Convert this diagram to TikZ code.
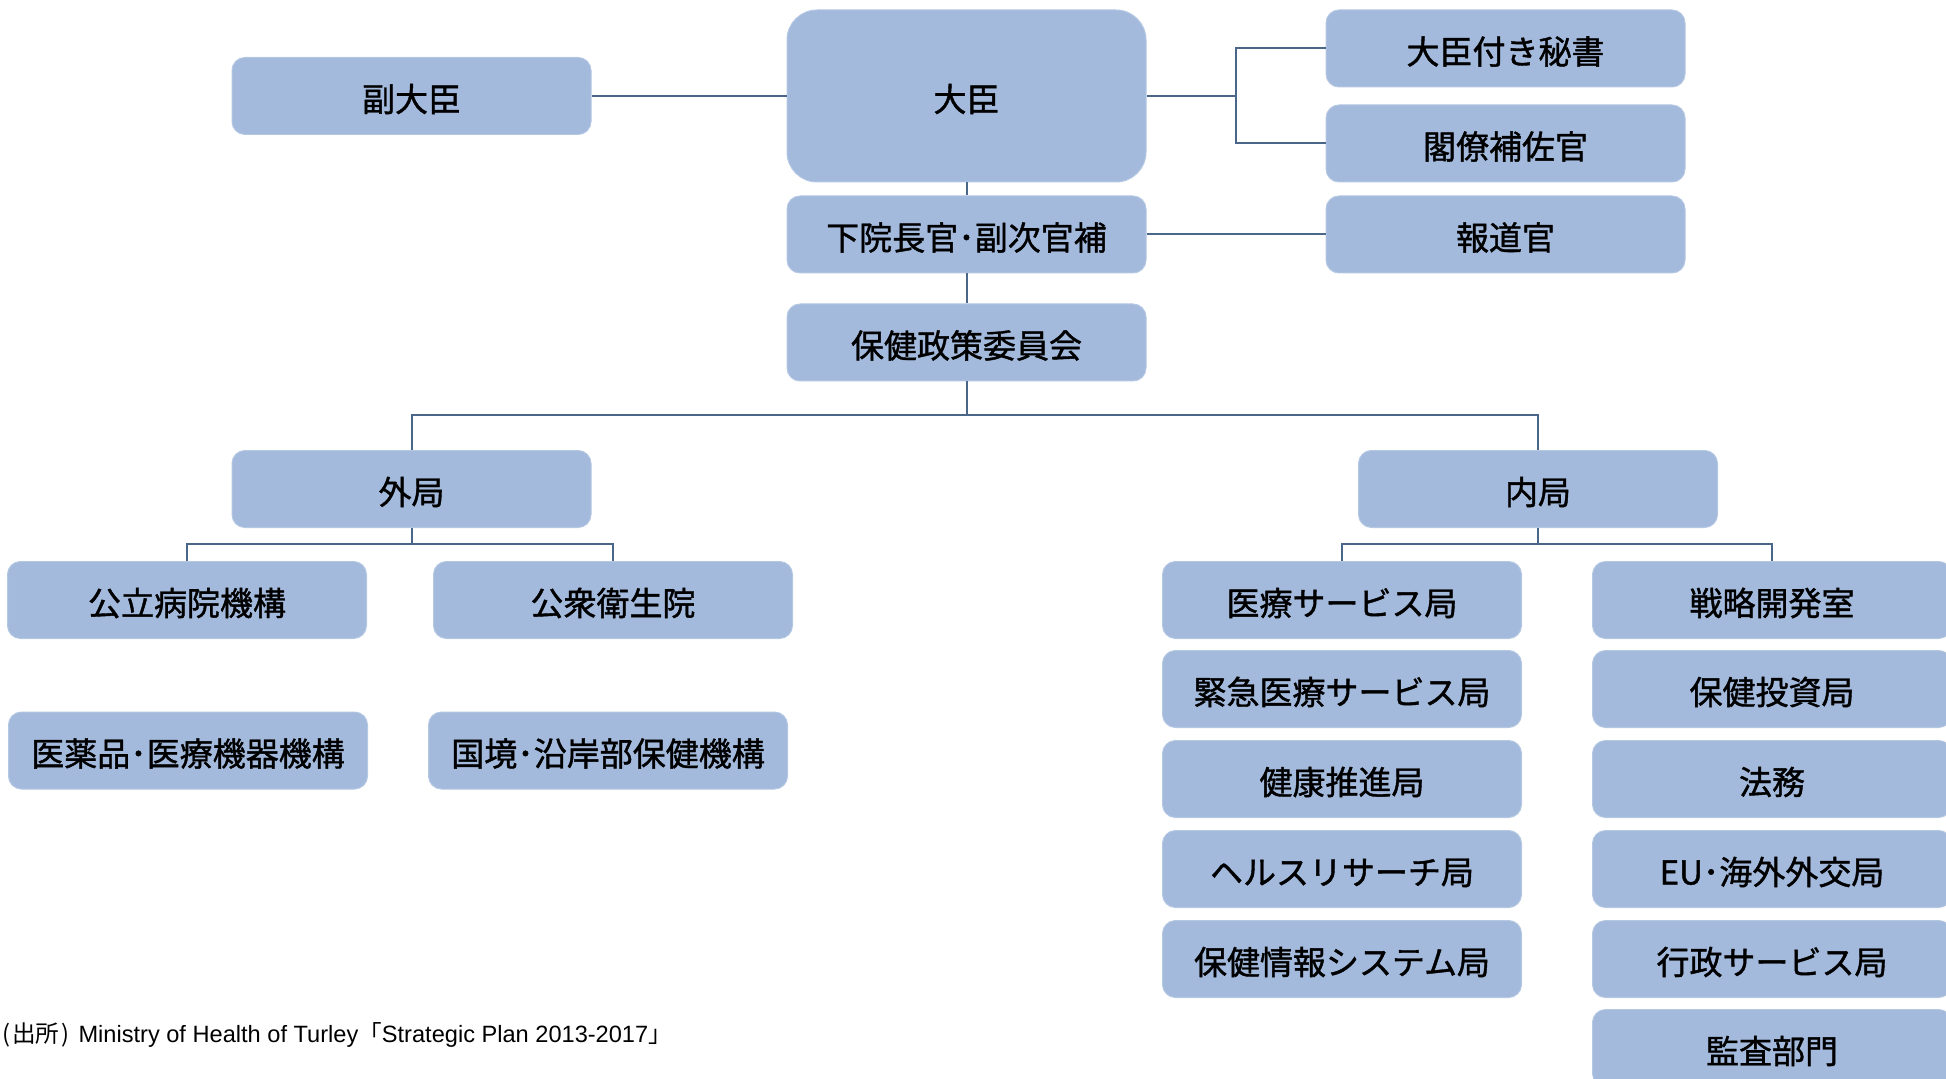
\documentclass[tikz,border=0pt]{standalone}
\usepackage{fontspec}
\newfontfamily\jp[BoldFont={Noto Sans CJK JP}, BoldFeatures={FakeBold=1.2}]{Noto Sans CJK JP}
\newfontfamily\lat{Liberation Sans}
\definecolor{boxfill}{HTML}{A3BADC}
\definecolor{boxedge}{HTML}{B4C7E3}
\definecolor{linec}{HTML}{4A6789}
\tikzset{
  orgbox/.style={rectangle, rounded corners=6.5pt, fill=boxfill, draw=boxedge, line width=0.5pt,
    minimum width=179.5pt, minimum height=38.5pt, inner sep=0pt,
    text height=17.5pt, text depth=2pt,
    font=\jp\bfseries\fontsize{16.5}{18}\selectfont, text=black},
  bigbox/.style={orgbox, rounded corners=15pt, minimum height=86pt},
  conn/.style={draw=linec, line width=1pt}
}
\begin{document}
\begin{tikzpicture}[x=0.5pt,y=-0.5pt]
\useasboundingbox (0,0) rectangle (1946,1079);
% top
\node[bigbox] (daijin) at (966.5,96) {大臣};
\node[orgbox] (fuku) at (411.5,96) {副大臣};
\node[orgbox] (hisho) at (1505.5,48.5) {大臣付き秘書};
\node[orgbox] (kakuryo) at (1505.5,143.5) {閣僚補佐官};
\node[orgbox] (hodo) at (1505.5,234.5) {報道官};
\node[orgbox] (kain) at (966.5,234.5) {下院長官･副次官補};
\node[orgbox] (hoken) at (966.5,342.5) {保健政策委員会};
\node[orgbox] (gai) at (411.5,489) {外局};
\node[orgbox] (nai) at (1538,489) {内局};
% outer bureaus
\node[orgbox] (koritsu) at (187,600) {公立病院機構};
\node[orgbox] (koshu) at (613,600) {公衆衛生院};
\node[orgbox] (iyaku) at (188,750.5) {医薬品･医療機器機構};
\node[orgbox] (kokkyo) at (608,750.5) {国境･沿岸部保健機構};
% inner bureaus left column
\node[orgbox] (l1) at (1342,600) {医療サービス局};
\node[orgbox] (l2) at (1342,689) {緊急医療サービス局};
\node[orgbox] (l3) at (1342,779) {健康推進局};
\node[orgbox] (l4) at (1342,869) {ヘルスリサーチ局};
\node[orgbox] (l5) at (1342,959) {保健情報システム局};
% right column
\node[orgbox] (r1) at (1772,600) {戦略開発室};
\node[orgbox] (r2) at (1772,689) {保健投資局};
\node[orgbox] (r3) at (1772,779) {法務};
\node[orgbox] (r4) at (1772,869) {EU･海外外交局};
\node[orgbox] (r5) at (1772,959) {行政サービス局};
\node[orgbox] (r6) at (1772,1048) {監査部門};
% connectors
\coordinate (j1) at (1236,96);
\coordinate (b1) at (966.5,415);
\coordinate (b2) at (411.5,544);
\coordinate (b3) at (1538,544);
\draw[conn] (fuku.east) -- (daijin.west);
\draw[conn] (daijin.east) -- (j1);
\draw[conn] (hisho.west) -| (j1) |- (kakuryo.west);
\draw[conn] (daijin.south) -- (kain.north);
\draw[conn] (kain.east) -- (hodo.west);
\draw[conn] (kain.south) -- (hoken.north);
\draw[conn] (hoken.south) -- (b1);
\draw[conn] (gai.north) |- (b1) -| (nai.north);
\draw[conn] (gai.south) -- (b2);
\draw[conn] (koritsu.north) |- (b2) -| (koshu.north);
\draw[conn] (nai.south) -- (b3);
\draw[conn] (l1.north) |- (b3) -| (r1.north);
% source
\node[anchor=west, inner sep=0pt, font=\lat\fontsize{11.8}{13}\selectfont] (src) at (2,1035)
  {{\jp (\kern1pt 出所\kern1pt)}\hspace{4.5pt}Ministry of Health of Turley{\jp 「}Strategic Plan 2013-2017{\jp 」}};
\end{tikzpicture}
\end{document}
